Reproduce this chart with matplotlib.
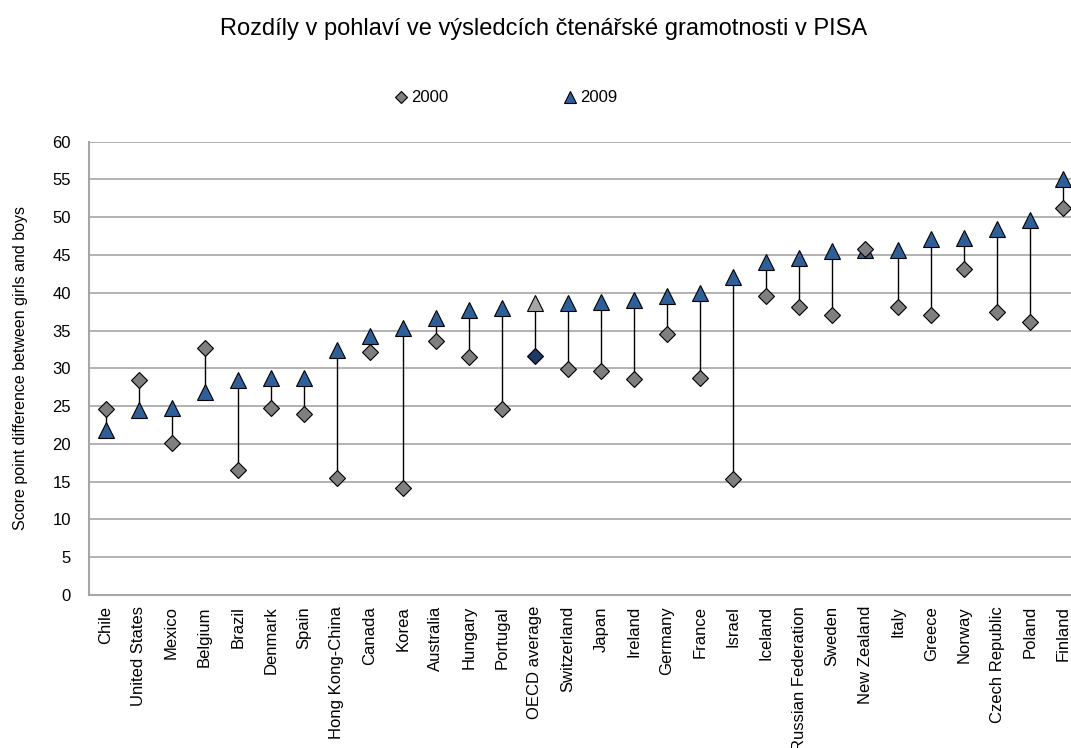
import matplotlib
matplotlib.use("Agg")
import matplotlib.pyplot as plt
from matplotlib.lines import Line2D
import numpy as np

plt.rcParams['font.family'] = ['Liberation Sans', 'DejaVu Sans']

countries = ["Chile", "United States", "Mexico", "Belgium", "Brazil", "Denmark", "Spain",
             "Hong Kong-China", "Canada", "Korea", "Australia", "Hungary", "Portugal",
             "OECD average", "Switzerland", "Japan", "Ireland", "Germany", "France", "Israel",
             "Iceland", "Russian Federation", "Sweden", "New Zealand", "Italy", "Greece",
             "Norway", "Czech Republic", "Poland", "Finland"]
values_2000 = [24.6, 28.5, 20.1, 32.7, 16.6, 24.7, 24.0, 15.5, 32.1, 14.1, 33.6, 31.5, 24.6,
               31.7, 29.9, 29.6, 28.6, 34.6, 28.7, 15.4, 39.6, 38.1, 37.0, 45.8, 38.1, 37.0,
               43.2, 37.4, 36.1, 51.2]
values_2009 = [21.9, 24.5, 24.7, 26.9, 28.5, 28.7, 28.7, 32.4, 34.3, 35.4, 36.6, 37.7, 38.0,
               38.7, 38.7, 38.8, 39.1, 39.6, 40.0, 42.1, 44.1, 44.6, 45.5, 45.6, 45.6, 47.1,
               47.2, 48.4, 49.6, 55.1]
highlight = "OECD average"

W, H = 1071, 748
fig = plt.figure(figsize=(W / 100, H / 100), dpi=100)
ax = fig.add_axes([89 / W, (H - 595) / H, (1080 - 89) / W, (595 - 141.7) / H])

x = np.arange(len(countries))
blue = "#2f5f98"
gray = "#7f7f7f"

# connecting lines
ax.vlines(x, np.minimum(values_2000, values_2009), np.maximum(values_2000, values_2009),
          colors="black", linewidth=1.0, zorder=3)

d_colors = ["#1f3864" if c == highlight else gray for c in countries]
t_colors = ["#a6a6a6" if c == highlight else blue for c in countries]
for i in range(len(countries)):
    ax.plot(x[i], values_2009[i], marker="^", markersize=12, color=t_colors[i],
            markeredgecolor="black", markeredgewidth=0.8, linestyle="none", zorder=4)
    ax.plot(x[i], values_2000[i], marker="D", markersize=8.5, color=d_colors[i],
            markeredgecolor="black", markeredgewidth=0.8, linestyle="none", zorder=5)

ax.set_xlim(-0.5, len(countries) - 0.5)
ax.set_ylim(0, 60)
ax.set_yticks(range(0, 61, 5))
ax.set_xticks(x)
ax.set_xticklabels(countries, rotation=90, fontsize=12)
ax.tick_params(axis="y", length=0, pad=13, labelsize=12)
ax.tick_params(axis="x", length=0, pad=8)
ax.grid(axis="y", color="#a6a6a6", linewidth=1.2)
ax.set_axisbelow(True)
for s in ["top", "right"]:
    ax.spines[s].set_visible(False)
ax.spines["left"].set_color("#a6a6a6")
ax.spines["left"].set_linewidth(1.5)
ax.spines["bottom"].set_color("#a6a6a6")
ax.spines["bottom"].set_linewidth(1.5)

ax.set_ylabel("Score point difference between girls and boys", fontsize=11.5)
ax.yaxis.set_label_coords(-61 / (1080 - 89), 0.5)

fig.text(544 / W, 1 - 35 / H, "Rozdíly v pohlaví ve výsledcích čtenářské gramotnosti v PISA",
         ha="center", va="baseline", fontsize=17)

handles = [Line2D([], [], marker="D", markersize=6.5, color=gray, markeredgecolor="black",
                  markeredgewidth=0.8, linestyle="none"),
           Line2D([], [], marker="^", markersize=9, color=blue, markeredgecolor="black",
                  markeredgewidth=0.8, linestyle="none")]
fig.legend(handles, ["2000", "2009"], loc="center", bbox_to_anchor=(505 / W, 1 - 98 / H),
           ncol=2, frameon=False, fontsize=12, handletextpad=0.1, columnspacing=6.85,
           handlelength=1.0)

fig.savefig("out.png", dpi=100)
